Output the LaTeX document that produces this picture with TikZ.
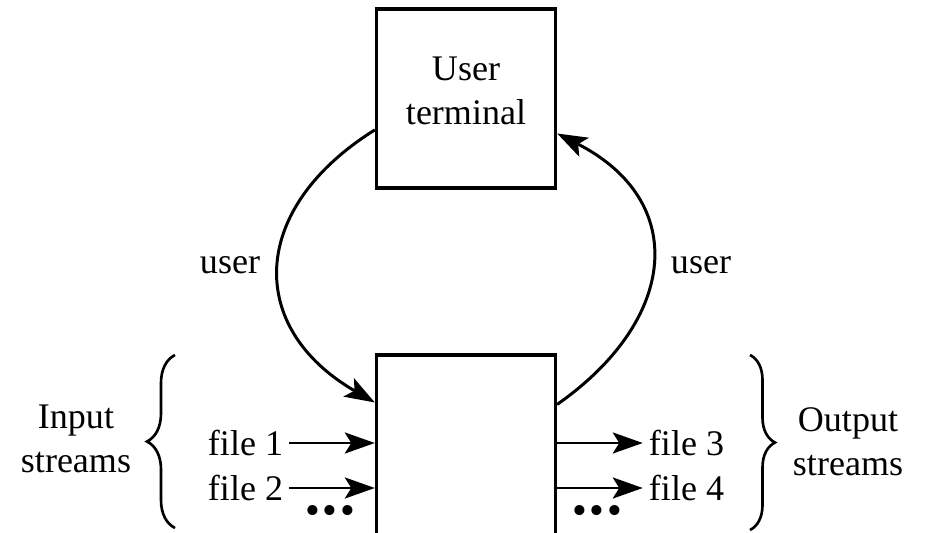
\documentclass[tikz,border=0pt]{standalone}
\usepackage{fontspec}
\setmainfont{Liberation Serif}
\usepackage{tikz}
\usetikzlibrary{arrows.meta, positioning, decorations.pathreplacing}

\tikzset{
  blk/.style={draw, line width=1.9pt, minimum width=3.58cm, minimum height=3.58cm},
  flow/.style={->, line width=1.7pt},
  brc/.style={decorate, decoration={brace, amplitude=#1}, line width=1.5pt},
  dts/.style={inner sep=0pt, font=\fontsize{24}{24}\selectfont}
}

\begin{document}
\begin{tikzpicture}[>={Stealth[length=0.6cm, width=0.42cm, inset=0.13cm]},
  font=\fontsize{20.5}{25}\selectfont]
  \useasboundingbox (0,0) rectangle (18.7,10.64);
  % the two boxes (the lower one runs off the page)
  \node[blk] (term) at (9.32,8.67) {};
  \node[align=center] (termtxt) at (9.32,8.82) {User\\terminal};
  \node[blk, minimum height=3.6cm] (proc) at (9.32,1.74) {};
  % user loop
  \draw[flow] (term.199) to[out=212, in=150, looseness=1.4] (proc.155);
  \draw[flow] (proc.24) to[out=35, in=-27, looseness=1.4] (term.-21);
  \node (userin) at (4.6,5.34) {user};
  \node (userout) at (14.02,5.34) {user};
  % file streams
  \node (f1) at (4.91,1.78) {file 1};
  \node (f2) at (4.91,0.88) {file 2};
  \node (f3) at (13.73,1.78) {file 3};
  \node (f4) at (13.73,0.88) {file 4};
  \draw[flow] (f1.east) -- (proc.west |- f1);
  \draw[flow] (f2.east) -- (proc.west |- f2);
  \draw[flow] (proc.east |- f3) -- (f3.west);
  \draw[flow] (proc.east |- f4) -- (f4.west);
  \node[dts] (dotsin) at (6.6,0.34) {\textbullet\kern1.5pt\textbullet\kern1.5pt\textbullet};
  \node[dts] (dotsout) at (11.94,0.34) {\textbullet\kern1.5pt\textbullet\kern1.5pt\textbullet};
  % braces and their labels
  \draw[brc=0.56cm] (3.5,0.08) -- (3.5,3.54);
  \draw[brc=0.5cm] (15.0,3.54) -- (15.0,0.04);
  \node[align=center] (instr) at (1.52,1.86) {Input\\streams};
  \node[align=center] (outstr) at (16.96,1.8) {Output\\streams};
\end{tikzpicture}
\end{document}
